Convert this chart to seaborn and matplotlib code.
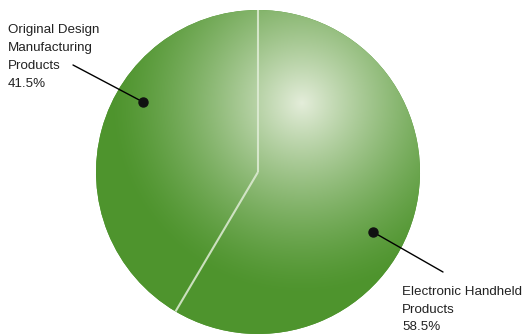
import numpy as np
import matplotlib
matplotlib.use("Agg")
import matplotlib.pyplot as plt
import seaborn as sns

# ---- data ----
categories = ["Original Design\nManufacturing\nProducts", "Electronic Handheld\nProducts"]
shares = [41.5, 58.5]
pct_labels = ["41.5%", "58.5%"]

sns.set_theme(style="white")
plt.rcParams["font.family"] = ["Liberation Sans", "DejaVu Sans"]

W, H = 526, 334
fig = plt.figure(figsize=(W / 100, H / 100), dpi=100)
ax = fig.add_axes([0, 0, 1, 1])

cx, cy, R = 258, H - 172, 162
dark = np.array([78, 148, 45]) / 255.0
light = np.array([228, 237, 218]) / 255.0

wedges, _ = ax.pie(shares, startangle=90, counterclock=True, center=(cx, cy),
                   radius=R, colors=[dark, dark], wedgeprops=dict(linewidth=0))
ax.set_xlim(0, W)
ax.set_ylim(0, H)
ax.set_aspect("equal")
ax.axis("off")

# radial gradient shading
hx, hy = 302, H - 103
xs = np.arange(W) + 0.5
ys = np.arange(H) + 0.5
X, Y = np.meshgrid(xs, ys)
d = np.hypot(X - hx, Y - hy)
f = np.clip(1 - d / 192.0, 0, 1) ** 1.35
img = dark[None, None, :] + (light - dark)[None, None, :] * f[:, :, None]
for w in wedges:
    im = ax.imshow(img, extent=(0, W, 0, H), origin="lower", zorder=2,
                   interpolation="bilinear")
    im.set_clip_path(w)

# separator lines along wedge boundaries
for w in wedges:
    t = np.deg2rad(w.theta1)
    ax.plot([cx, cx + R * np.cos(t)], [cy, cy + R * np.sin(t)],
            color=(0.88, 0.93, 0.84), lw=1.5, alpha=0.85, zorder=3,
            solid_capstyle="butt")

# labels with leader lines
label_pos = [(8, H - 24), (402, H - 286)]
dot_pos = [(143, H - 102), (373, H - 232)]
line_end = [(73, H - 65), (443, H - 272)]
spacings = [1.68, 1.62]
for cat, pct, lp, dp, le, ls in zip(categories, pct_labels, label_pos, dot_pos, line_end, spacings):
    ax.text(lp[0], lp[1], cat + "\n" + pct, ha="left", va="top", fontsize=9.6,
            linespacing=ls, color="#222222", zorder=5)
    ax.plot([dp[0], le[0]], [dp[1], le[1]], color="black", lw=1.0, zorder=4)
    ax.plot([dp[0]], [dp[1]], "o", color="#111111", ms=6.5, zorder=5)

fig.savefig("out.png", dpi=100)
